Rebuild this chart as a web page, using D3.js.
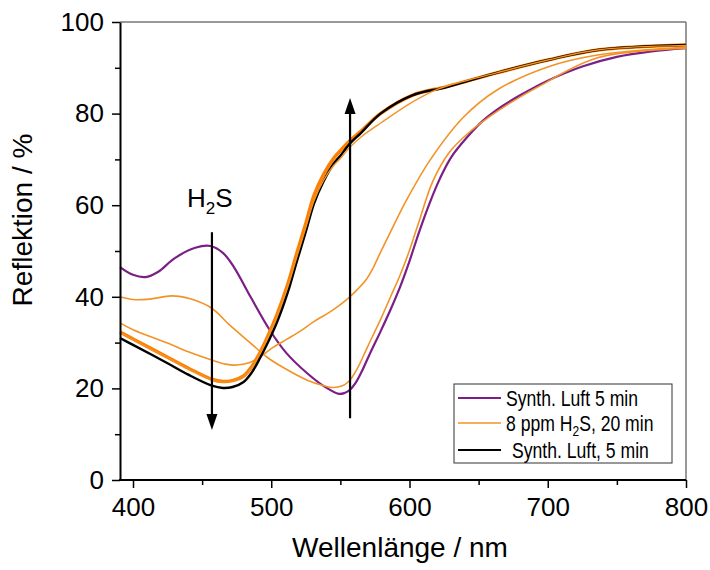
<!DOCTYPE html>
<html>
<head>
<meta charset="utf-8">
<script src="https://cdn.jsdelivr.net/npm/d3@7"></script>
<style>
  body { margin: 0; background: #fff; }
  text { font-family: "Liberation Sans", Arial, sans-serif; fill: #000; }
</style>
</head>
<body>
<svg id="chart" width="710" height="570"></svg>
<script>
// reflectance spectra, [wavelength nm, reflection %]
const luftStart = [
  [390.6, 46.5], [400, 44.8], [409, 44.3], [418, 45.4], [430, 48.4], [445, 50.7], [456, 51.1],
  [465, 49.6], [473, 46.5], [485, 40], [499, 32.7], [511, 27.7], [526, 23.3], [538, 20.5],
  [549, 18.8], [553, 19], [557, 19.7], [561, 21.2], [565, 23.4], [572, 28], [579, 32.4],
  [586, 37], [593, 42], [600, 47.8], [607, 54.2], [615, 60.8], [622, 65.8], [630, 70.4],
  [641, 74.6], [653, 78.4], [667, 81.6], [680, 84], [700, 87.2], [725, 90.3], [750, 92.4],
  [775, 93.6], [800, 94.3]
];
const h2sA = [
  [390.6, 40], [400, 39.4], [412, 39.5], [428, 40.2], [442, 39.5], [457, 37.5], [470, 33.8],
  [485, 29.9], [497, 26.8], [509, 24.5], [526, 21.8], [538, 20.6], [545, 20.2], [551, 20.5],
  [556, 21.5], [562, 24.2], [570, 29.3], [579, 35], [586, 39.8], [593, 44.6], [599, 49.3],
  [606, 55.6], [617, 65.3], [629, 71.6], [642, 75.6], [665, 80.8], [694, 86], [736, 92.2], [800, 94.3]
];
const h2sB = [
  [390.6, 34.3], [400, 32.8], [425, 29.9], [440, 28], [457, 26.2], [467, 25.3], [475, 25.1],
  [484, 25.6], [492, 26.9], [500, 28.7], [511, 30.7], [521, 32.5], [530, 34.4], [545, 37.2],
  [555, 39.5], [562, 41.5], [569, 43.9], [574, 46.5], [579, 49.7], [586, 54], [598, 61.2],
  [615, 69.9], [639, 79.2], [663, 85.1], [700, 90.2], [736, 92.8], [800, 94.5]
];
const h2sC = [
  [390.6, 32.2], [400, 30.7], [425, 26.7], [440, 24.3], [457, 21.9], [465, 21.4], [472, 21.6],
  [480, 22.6], [486, 24.6], [492, 27.7], [498, 31.4], [504, 35.6], [512, 42.2], [518, 48.2],
  [525, 55.1], [531, 61], [538, 65.5], [545, 68.6], [550, 70.2], [557, 72.7], [565, 74.9],
  [579, 77.9], [602, 82.5], [620, 85.3], [640, 87.1], [663, 88.9], [700, 91.7], [736, 93.9], [800, 94.9]
];
const h2sD = [
  [390.6, 32.3], [400, 30.8], [425, 26.8], [440, 24.4], [457, 22], [465, 21.5], [472, 21.7],
  [480, 22.7], [486, 24.8], [492, 27.9], [498, 31.7], [504, 36], [512, 42.8], [518, 49],
  [525, 56], [531, 62.2], [538, 66.8], [545, 70.2], [550, 71.9], [557, 74.1], [565, 76.2],
  [579, 80], [602, 84], [627, 85.9], [663, 88.9], [700, 91.7], [736, 93.9], [800, 95]
];
const luftEnd = [
  [390.6, 31], [400, 29.5], [425, 25.5], [440, 23], [457, 20.6], [465, 20.1], [472, 20.3],
  [480, 21.4], [486, 23.5], [492, 26.7], [498, 30.3], [504, 34.3], [512, 41], [518, 47.2],
  [525, 54.2], [531, 60.4], [538, 65.3], [545, 69], [550, 70.8], [557, 73.5], [565, 75.8],
  [579, 80], [602, 84], [627, 85.8], [663, 88.9], [700, 91.7], [736, 93.9], [800, 95]
];

const xTicks = [400, 500, 600, 700, 800];
const xMinor = [450, 550, 650, 750];
const yTicks = [0, 20, 40, 60, 80, 100];
const yMinor = [10, 30, 50, 70, 90];
const legendLabels = ["Synth. Luft 5 min", "8 ppm H\u2082S, 20 min", "Synth. Luft, 5 min"];

const purple = "#7b1f86";
const orange = "#f29327";

const mLeft = 120, mRight = 686, mTop = 22, mBottom = 480;
const svg = d3.select("#chart");

const x = d3.scaleLinear().domain([390.6, 800]).range([mLeft, mRight]);
const y = d3.scaleLinear().domain([0, 100]).range([mBottom, mTop]);

const line = d3.line()
  .x((d) => x(d[0]))
  .y((d) => y(d[1]))
  .curve(d3.curveCatmullRom.alpha(0.5));

// frame: grey top and right
svg.append("line").attr("x1", mLeft).attr("x2", mRight).attr("y1", mTop).attr("y2", mTop)
  .attr("stroke", "#777").attr("stroke-width", 1.5);
svg.append("line").attr("x1", mRight).attr("x2", mRight).attr("y1", mTop).attr("y2", mBottom)
  .attr("stroke", "#777").attr("stroke-width", 1.5);

// curves
const curves = [
  { data: luftStart, color: purple, width: 2.2 },
  { data: h2sA, color: orange, width: 1.6 },
  { data: h2sB, color: orange, width: 1.6 },
  { data: h2sD, color: "#ff7f00", width: 3.5 },
  { data: luftEnd, color: "#000", width: 2.4 },
  { data: h2sC, color: orange, width: 1.4 },
];
svg.selectAll("path.curve")
  .data(curves)
  .enter()
  .append("path")
  .attr("class", "curve")
  .attr("fill", "none")
  .attr("stroke", (d) => d.color)
  .attr("stroke-width", (d) => d.width)
  .attr("d", (d) => line(d.data));

// axes
const xAxis = svg.append("g").attr("transform", "translate(0," + mBottom + ")")
  .call(d3.axisBottom(x).tickValues(xTicks).tickSize(8).tickSizeOuter(0).tickPadding(10));
svg.append("g").attr("transform", "translate(0," + mBottom + ")")
  .call(d3.axisBottom(x).tickValues(xMinor).tickSize(5).tickFormat(""))
  .select(".domain").remove();
const yAxis = svg.append("g").attr("transform", "translate(" + mLeft + ",0)")
  .call(d3.axisLeft(y).tickValues(yTicks).tickSize(8).tickSizeOuter(0).tickPadding(8));
svg.append("g").attr("transform", "translate(" + mLeft + ",0)")
  .call(d3.axisLeft(y).tickValues(yMinor).tickSize(5).tickFormat(""))
  .select(".domain").remove();

svg.selectAll(".tick line").attr("stroke", "#000").attr("stroke-width", 1.5);
svg.selectAll(".domain").attr("stroke", "#000").attr("stroke-width", 2);
xAxis.selectAll(".tick text").attr("font-size", 26).attr("fill", "#000")
  .attr("font-family", "Liberation Sans, Arial, sans-serif");
yAxis.selectAll(".tick text").attr("font-size", 26).attr("fill", "#000")
  .attr("font-family", "Liberation Sans, Arial, sans-serif");
xAxis.select(".domain").attr("d", "M" + (mLeft - 1) + ",0H" + mRight);

// axis titles
svg.append("text")
  .attr("x", 400).attr("y", 557)
  .attr("text-anchor", "middle").attr("font-size", 28)
  .text("Wellenlänge / nm");
svg.append("text")
  .attr("transform", "translate(32,220) rotate(-90)")
  .attr("text-anchor", "middle").attr("font-size", 28)
  .text("Reflektion / %");

// arrows
const arrow = (x0, y0, y1) => {
  const px = x(x0), pa = y(y0), pb = y(y1);
  const dir = pb > pa ? 1 : -1;
  svg.append("line").attr("x1", px).attr("x2", px).attr("y1", pa).attr("y2", pb - dir * 12)
    .attr("stroke", "#000").attr("stroke-width", 2.2);
  svg.append("path")
    .attr("d", "M" + px + "," + pb + "L" + (px - 5.5) + "," + (pb - dir * 16) +
      "L" + (px + 5.5) + "," + (pb - dir * 16) + "Z")
    .attr("fill", "#000");
};
arrow(457.1, 54.1, 10.9);
arrow(557, 13.5, 83.4);

const h2s = svg.append("text").attr("x", x(455.5)).attr("y", y(59.6))
  .attr("text-anchor", "middle").attr("font-size", 26);
h2s.append("tspan").text("H");
h2s.append("tspan").attr("font-size", 17).attr("dy", 7).text("2");
h2s.append("tspan").attr("dy", -7).text("S");

// legend
const lg = svg.append("g");
lg.append("rect").attr("x", 454).attr("y", 384).attr("width", 218).attr("height", 79)
  .attr("fill", "#fff").attr("stroke", "#333").attr("stroke-width", 1);
const legendColors = [purple, orange, "#000"];
const rowY = [398, 423, 450];
const textX = [506, 506, 512];
legendLabels.forEach((label, i) => {
  lg.append("line").attr("x1", 458).attr("x2", 501).attr("y1", rowY[i]).attr("y2", rowY[i])
    .attr("stroke", legendColors[i]).attr("stroke-width", i === 1 ? 1.6 : 2);
  const t = lg.append("text")
    .attr("transform", "translate(" + textX[i] + "," + (rowY[i] + 8) + ") scale(0.8,1)")
    .attr("font-size", 22);
  if (i === 1) {
    t.append("tspan").text("8 ppm H");
    t.append("tspan").attr("font-size", 15).attr("dy", 5).text("2");
    t.append("tspan").attr("dy", -5).text("S, 20 min");
  } else {
    t.text(label);
  }
});
</script>
</body>
</html>
